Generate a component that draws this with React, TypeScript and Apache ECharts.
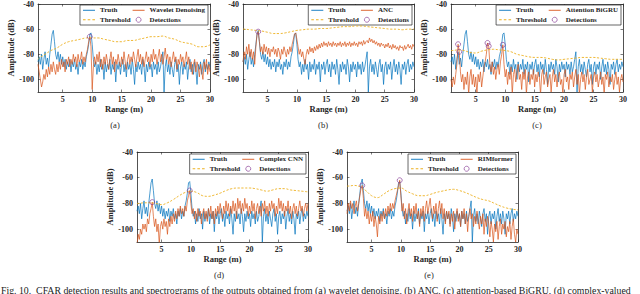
import React, { useEffect, useRef } from "react";
import * as echarts from "echarts";

// Range grid of the sampled traces: 0.8 m to 30 m, 0.2 m apart
const RANGE_START = 0.8;
const RANGE_STEP = 0.2;

// values per row: [0.8], then x.0 x.2 x.4 x.6 x.8 for x = 1..29, then [30.0]
const truth = [
  -86,
  -82, -88, -80, -92, -84,
  -78, -88, -83, -90, -80,
  -72, -64, -61, -70, -80,
  -84, -78, -86, -80, -88,
  -82, -90, -84, -92, -86,
  -90, -84, -94, -86, -90,
  -84, -92, -88, -96, -86,
  -90, -84, -92, -86, -90,
  -82, -78, -72, -64, -63,
  -72, -84, -90, -86, -96,
  -88, -94, -84, -92, -88,
  -100, -86, -94, -88, -92,
  -84, -96, -88, -92, -86,
  -102, -88, -92, -86, -96,
  -88, -84, -94, -88, -98,
  -86, -92, -88, -96, -84,
  -92, -104, -88, -94, -86,
  -92, -88, -96, -84, -90,
  -102, -88, -94, -86, -92,
  -88, -98, -86, -92, -88,
  -96, -86, -94, -90, -84,
  -78, -110, -90, -84, -94,
  -88, -96, -86, -92, -98,
  -88, -84, -94, -88, -104,
  -90, -86, -96, -88, -92,
  -86, -100, -90, -84, -94,
  -88, -96, -86, -92, -104,
  -88, -92, -86, -96, -88,
  -84, -94, -88, -92, -86,
  -90,
];

const wavelet = [
  -88,
  -94, -100, -106, -102, -96,
  -100, -92, -98, -90, -96,
  -88, -94, -86, -92, -96,
  -88, -94, -86, -92, -84,
  -90, -86, -94, -84, -88,
  -82, -90, -84, -88, -80,
  -86, -82, -90, -80, -86,
  -84, -78, -88, -82, -86,
  -80, -76, -70, -66, -74,
  -108, -90, -82, -88, -80,
  -86, -78, -90, -84, -92,
  -82, -88, -80, -86, -92,
  -84, -78, -88, -82, -94,
  -84, -88, -80, -86, -90,
  -82, -88, -78, -86, -92,
  -84, -80, -88, -82, -86,
  -78, -84, -90, -82, -76,
  -86, -80, -88, -82, -90,
  -84, -78, -86, -82, -90,
  -80, -86, -76, -84, -80,
  -88, -82, -76, -86, -80,
  -88, -82, -75, -84, -80,
  -88, -82, -90, -84, -78,
  -86, -82, -92, -84, -88,
  -80, -86, -82, -90, -84,
  -78, -88, -82, -92, -86,
  -96, -88, -84, -94, -86,
  -90, -98, -88, -94, -100,
  -86, -92, -84, -96, -88,
  -94,
];

const anc = [
  -86,
  -78, -84, -74, -80, -72,
  -82, -76, -84, -78, -88,
  -74, -64, -62, -70, -78,
  -74, -80, -72, -78, -74,
  -80, -75, -82, -76, -78,
  -74, -80, -76, -82, -75,
  -78, -84, -76, -80, -74,
  -78, -82, -76, -80, -74,
  -78, -72, -68, -64, -63,
  -68, -74, -80, -76, -82,
  -78, -84, -88, -80, -76,
  -80, -74, -78, -75, -79,
  -74, -77, -73, -76, -72,
  -75, -71, -74, -70, -73,
  -71, -74, -70, -73, -71,
  -74, -70, -73, -71, -74,
  -71, -73, -70, -74, -71,
  -73, -70, -74, -71, -73,
  -70, -74, -71, -73, -70,
  -73, -71, -74, -70, -72,
  -70, -73, -69, -72, -70,
  -69, -71, -67, -70, -68,
  -71, -69, -72, -70, -73,
  -71, -74, -71, -73, -72,
  -75, -72, -74, -71, -75,
  -73, -76, -72, -75, -73,
  -76, -74, -77, -73, -75,
  -74, -77, -73, -76, -74,
  -72, -75, -73, -76, -72,
  -74,
];

const bigru = [
  -100,
  -106, -98, -104, -96, -88,
  -72, -78, -94, -102, -96,
  -108, -98, -104, -94, -112,
  -98, -92, -104, -96, -106,
  -98, -112, -96, -102, -94,
  -106, -98, -90, -86, -80,
  -71, -73.5, -88, -94, -86,
  -96, -90, -100, -92, -88,
  -96, -86, -80, -72.5, -88,
  -98, -92, -104, -94, -100,
  -90, -112, -96, -92, -102,
  -94, -88, -100, -96, -108,
  -94, -100, -92, -112, -98,
  -94, -104, -96, -100, -92,
  -106, -96, -102, -94, -98,
  -112, -96, -92, -104, -98,
  -94, -106, -100, -96, -110,
  -98, -92, -102, -96, -106,
  -98, -94, -104, -100, -112,
  -96, -92, -102, -98, -108,
  -96, -100, -94, -106, -98,
  -92, -104, -96, -112, -100,
  -94, -102, -96, -108, -98,
  -92, -104, -100, -96, -110,
  -98, -94, -102, -96, -106,
  -100, -94, -104, -98, -112,
  -96, -100, -94, -106, -98,
  -102, -96, -108, -100, -94,
  -104, -98, -110, -100, -96,
  -102,
];

const complexCnn = [
  -112,
  -104, -108, -100, -104, -96,
  -100, -96, -102, -92, -96,
  -88, -84, -79, -90, -98,
  -92, -102, -96, -112, -98,
  -94, -100, -92, -98, -94,
  -104, -92, -98, -90, -96,
  -88, -94, -86, -92, -84,
  -90, -82, -88, -84, -90,
  -82, -86, -78, -74, -70,
  -80, -88, -84, -92, -86,
  -94, -84, -90, -86, -96,
  -88, -84, -92, -86, -94,
  -84, -90, -82, -92, -86,
  -96, -84, -90, -82, -88,
  -80, -86, -92, -82, -88,
  -78, -86, -80, -90, -82,
  -88, -78, -86, -80, -92,
  -76, -84, -78, -88, -80,
  -86, -76, -84, -80, -90,
  -82, -88, -78, -86, -80,
  -92, -84, -80, -88, -82,
  -90, -80, -86, -78, -88,
  -82, -90, -80, -86, -78,
  -84, -80, -90, -82, -88,
  -76, -84, -78, -86, -80,
  -90, -82, -86, -78, -88,
  -82, -92, -84, -80, -88,
  -82, -90, -84, -78, -86,
  -82, -90, -84, -80, -86,
  -80,
];

const rimformer = [
  -88,
  -80, -86, -78, -84, -80,
  -88, -82, -78, -86, -80,
  -74, -68, -66, -76, -90,
  -84, -92, -86, -96, -88,
  -94, -86, -98, -90, -96,
  -106, -90, -96, -88, -94,
  -86, -92, -84, -90, -82,
  -88, -80, -86, -80, -84,
  -78, -74, -70, -66, -62,
  -74, -86, -80, -92, -84,
  -96, -86, -80, -90, -84,
  -94, -82, -88, -80, -92,
  -86, -98, -84, -90, -82,
  -94, -84, -78, -88, -82,
  -76, -86, -92, -82, -88,
  -80, -94, -84, -78, -88,
  -80, -92, -84, -96, -86,
  -92, -86, -98, -88, -94,
  -86, -100, -90, -84, -94,
  -88, -98, -86, -92, -84,
  -96, -88, -102, -90, -84,
  -92, -88, -98, -90, -96,
  -86, -94, -100, -90, -96,
  -88, -104, -92, -98, -90,
  -96, -106, -94, -100, -110,
  -96, -102, -94, -108, -98,
  -92, -104, -96, -100, -94,
  -106, -98, -102, -94, -108,
  -98, -92, -104, -110, -100,
  -104,
];

// CFAR thresholds, sampled at these ranges (m)
const thresholdRange = [0.8, 1, 2, 3, 4, 5, 6, 7, 8, 9, 10, 11, 12, 13, 14, 15, 16, 17, 18, 19, 20, 21, 22, 23, 24, 25, 26, 27, 28, 29, 30];
const thrWavelet = [-84, -83, -80, -77, -75, -72, -70, -69, -68, -67, -67, -67, -68, -69, -70, -70, -69, -69, -68, -67, -66, -66, -65.5, -67, -68, -70, -71, -72, -74, -74, -72.5];
const thrAnc = [-60, -60, -60.5, -61, -61.5, -62.5, -63.5, -63.5, -63, -62, -61, -60.5, -60, -60, -59.5, -59.5, -59, -58.5, -58, -58, -57.5, -57.5, -58, -58.5, -59, -59.5, -60, -60, -60.5, -60, -60];
const thrBigru = [-77, -77, -76.5, -77, -78.5, -79, -77.5, -76.5, -76, -76.5, -77, -78, -80, -81, -82, -82.5, -82.5, -83, -84, -84.5, -84, -83.5, -83, -82.5, -82.5, -82.5, -83, -83.5, -84, -84, -84];
const thrCnn = [-80, -80, -79.5, -79.5, -80, -81, -79.5, -77, -74, -71.5, -70.5, -71.5, -74, -74.5, -73.5, -72, -70, -68.5, -68, -68, -68, -68.5, -69.5, -70.5, -69.5, -68.5, -68.5, -69.5, -70, -70.5, -71];
const thrRim = [-66.5, -66.5, -66, -67, -70, -74, -75.5, -73, -70, -68.5, -68, -70.5, -72.5, -74, -74, -73, -71.5, -70.5, -69.5, -69, -70, -71.5, -73.5, -75.5, -77, -78, -80, -82, -83.5, -84.5, -85];

// CFAR detections [range (m), amplitude (dB)]
const detWavelet = [[9.6, -66]];
const detAnc = [[3.4, -62]];
const detBigru = [[2.0, -72], [2.2, -78], [7.0, -71], [7.2, -73.5], [9.6, -72.5]];
const detCnn = [[3.4, -79], [9.8, -70]];
const detRim = [[3.4, -66], [9.8, -62]];

const methodNames = ["Wavelet Denoising", "ANC", "Attention BiGRU", "Complex CNN", "RIMformer"];
const panelLetters = ["(a)", "(b)", "(c)", "(d)", "(e)"];
const xTicks = [5, 10, 15, 20, 25, 30];
const yTicks = [-100, -80, -60, -40];
const X_MIN = 0.8;
const X_MAX = 30;
const Y_MIN = -110;
const Y_MAX = -40;

const caption =
  "Fig. 10.  CFAR detection results and spectrograms of the outputs obtained from (a) wavelet denoising, (b) ANC, (c) attention-based BiGRU, (d) complex-valued";

const FONT = "'Liberation Serif', 'Times New Roman', serif";
const INK = "#262626";
const BLUE = "#0072BD";
const ORANGE = "#D95319";
const YELLOW = "#EDB120";
const PURPLE = "#7E2F8E";

// legend glyphs: thin solid line, thin dashed line
const ICON_SOLID = "path://M0,0H12V0.9H0Z";
const ICON_DASHED = "path://M0,0H2.6V0.9H0Z M4.7,0H7.3V0.9H4.7Z M9.4,0H12V0.9H9.4Z";

const W = 640;
const H = 294;

const grids = [
  { left: 38, top: 3, width: 172, height: 89 },
  { left: 243, top: 3, width: 171, height: 89 },
  { left: 451, top: 3, width: 172, height: 89 },
  { left: 137, top: 152, width: 171, height: 90 },
  { left: 347, top: 152, width: 171, height: 90 },
];
const letterPos = [
  [115, 125],
  [323, 125],
  [537, 125],
  [219, 275],
  [429, 275],
];

const methodData = [wavelet, anc, bigru, complexCnn, rimformer];
const thrData = [thrWavelet, thrAnc, thrBigru, thrCnn, thrRim];
const detData = [detWavelet, detAnc, detBigru, detCnn, detRim];

function pairs(values: number[]) {
  return values.map((v, i) => [+(RANGE_START + RANGE_STEP * i).toFixed(1), v]);
}

function buildOption() {
  const xAxis: any[] = [];
  const yAxis: any[] = [];
  const series: any[] = [];
  const legend: any[] = [];
  const graphic: any[] = [];

  const axisLine = { show: true, onZero: false, lineStyle: { color: INK, width: 0.8 } };
  const tickLabel = { fontFamily: FONT, fontSize: 8, fontWeight: "bold", color: INK };
  const nameStyle = { fontFamily: FONT, fontSize: 8.5, fontWeight: "bold", color: INK };

  grids.forEach((g, p) => {
    xAxis.push({
      type: "value", gridIndex: p, min: X_MIN, max: X_MAX, position: "bottom",
      axisLine, splitLine: { show: false },
      axisTick: { show: true, inside: true, length: 2.5, customValues: xTicks, lineStyle: { color: INK, width: 0.6 } },
      axisLabel: { ...tickLabel, margin: 3, customValues: xTicks },
      name: "Range (m)", nameLocation: "middle", nameGap: 12.5, nameTextStyle: nameStyle,
    });
    xAxis.push({
      type: "value", gridIndex: p, min: X_MIN, max: X_MAX, position: "top",
      axisLine, splitLine: { show: false },
      axisTick: { show: true, inside: true, length: 2.5, customValues: xTicks, lineStyle: { color: INK, width: 0.6 } },
      axisLabel: { show: false },
    });
    yAxis.push({
      type: "value", gridIndex: p, min: Y_MIN, max: Y_MAX, position: "left",
      axisLine, splitLine: { show: false },
      axisTick: { show: true, inside: true, length: 2.5, customValues: yTicks, lineStyle: { color: INK, width: 0.6 } },
      axisLabel: { ...tickLabel, margin: 4, customValues: yTicks },
      name: "Amplitude (dB)", nameLocation: "middle", nameRotate: 90, nameGap: 21, nameTextStyle: nameStyle,
    });
    yAxis.push({
      type: "value", gridIndex: p, min: Y_MIN, max: Y_MAX, position: "right",
      axisLine, splitLine: { show: false },
      axisTick: { show: true, inside: true, length: 2.5, customValues: yTicks, lineStyle: { color: INK, width: 0.6 } },
      axisLabel: { show: false },
    });

    const xi = 2 * p;
    const yi = 2 * p;
    series.push({
      name: "Truth", type: "line", xAxisIndex: xi, yAxisIndex: yi,
      data: pairs(truth), symbol: "none", color: BLUE,
      lineStyle: { color: BLUE, width: 0.7 }, z: 2,
    });
    series.push({
      name: methodNames[p], type: "line", xAxisIndex: xi, yAxisIndex: yi,
      data: pairs(methodData[p]), symbol: "none", color: ORANGE,
      lineStyle: { color: ORANGE, width: 0.7 }, z: 3,
    });
    series.push({
      name: "Threshold", type: "line", xAxisIndex: xi, yAxisIndex: yi,
      data: thresholdRange.map((x, i) => [x, thrData[p][i]]), symbol: "none", smooth: 0.4,
      color: YELLOW, lineStyle: { color: YELLOW, width: 0.9, type: [2.2, 1.6] }, z: 4,
    });
    series.push({
      name: "Detections", type: "scatter", xAxisIndex: xi, yAxisIndex: yi,
      data: detData[p], symbol: "circle", symbolSize: 5, color: PURPLE,
      itemStyle: { color: "rgba(255,255,255,0)", borderColor: PURPLE, borderWidth: 0.8 }, z: 5,
    });

    legend.push({
      orient: "vertical",
      right: W - (g.left + g.width) + 2,
      top: g.top + 2,
      height: 18,
      data: [
        { name: "Truth", icon: ICON_SOLID, itemStyle: { color: BLUE, borderWidth: 0 } },
        { name: "Threshold", icon: ICON_DASHED, itemStyle: { color: YELLOW, borderWidth: 0 } },
        { name: methodNames[p], icon: ICON_SOLID, itemStyle: { color: ORANGE, borderWidth: 0 } },
        { name: "Detections", icon: "circle", itemStyle: { color: "rgba(255,255,255,0)", borderColor: PURPLE, borderWidth: 0.8 } },
      ],
      itemWidth: 12, itemHeight: 5, itemGap: 2,
      padding: [1.5, 3, 1.5, 3],
      borderColor: INK, borderWidth: 0.7, backgroundColor: "#ffffff",
      selectedMode: false,
      textStyle: { fontFamily: FONT, fontSize: 7, fontWeight: "bold", color: INK, lineHeight: 7.5 },
    });

    graphic.push({
      type: "text", x: letterPos[p][0], y: letterPos[p][1],
      style: { text: panelLetters[p], font: `8.5px ${FONT}`, fill: INK, textAlign: "center", textVerticalAlign: "middle" },
    });
  });

  graphic.push({
    type: "text", x: 1, y: 290,
    style: { text: caption, font: `9.8px ${FONT}`, fill: "#1a1a1a", textAlign: "left", textVerticalAlign: "middle" },
  });

  return {
    animation: false,
    backgroundColor: "#ffffff",
    grid: grids.map((g) => ({ ...g, containLabel: false, show: false })),
    xAxis,
    yAxis,
    legend,
    series,
    graphic,
  };
}

export default function App() {
  const ref = useRef<HTMLDivElement>(null);
  useEffect(() => {
    if (!ref.current) return;
    const chart = echarts.init(ref.current, undefined, { renderer: "svg", width: W, height: H });
    chart.setOption(buildOption() as any);
    return () => chart.dispose();
  }, []);
  return (
    <div
      ref={ref}
      style={{ position: "fixed", left: 0, top: 0, width: W, height: H, background: "#fff" }}
    />
  );
}
